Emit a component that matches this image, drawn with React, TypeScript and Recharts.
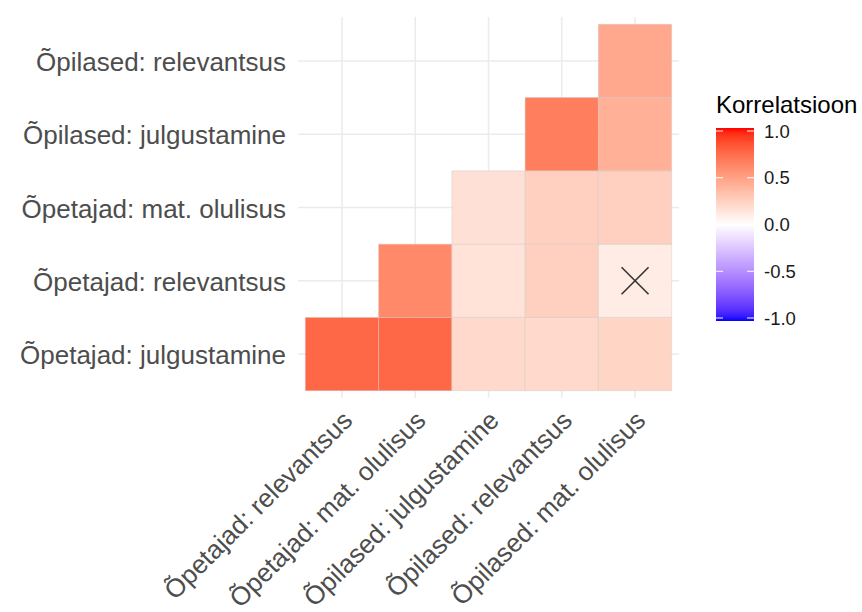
import React from "react";
import {
  ScatterChart,
  Scatter,
  XAxis,
  YAxis,
  CartesianGrid,
  ReferenceArea,
} from "recharts";

// ---------- data ----------
const xCategories = [
  "Õpetajad: relevantsus",
  "Õpetajad: mat. olulisus",
  "Õpilased: julgustamine",
  "Õpilased: relevantsus",
  "Õpilased: mat. olulisus",
];

// bottom to top
const yCategories = [
  "Õpetajad: julgustamine",
  "Õpetajad: relevantsus",
  "Õpetajad: mat. olulisus",
  "Õpilased: julgustamine",
  "Õpilased: relevantsus",
];

// correlation per y row, one value per x column (null = not shown)
const rowOpetajadJulgustamine = [0.75, 0.75, 0.2, 0.2, 0.22];
const rowOpetajadRelevantsus = [null, 0.6, 0.15, 0.25, 0.1];
const rowOpetajadMatOlulisus = [null, null, 0.16, 0.25, 0.25];
const rowOpilasedJulgustamine = [null, null, null, 0.65, 0.41];
const rowOpilasedRelevantsus = [null, null, null, null, 0.45];

const corrRows: (number | null)[][] = [
  rowOpetajadJulgustamine,
  rowOpetajadRelevantsus,
  rowOpetajadMatOlulisus,
  rowOpilasedJulgustamine,
  rowOpilasedRelevantsus,
];

// non-significant pairs (marked with a cross)
const insignificantX = ["Õpilased: mat. olulisus"];
const insignificantY = ["Õpetajad: relevantsus"];

const legendTitle = "Korrelatsioon";
const legendTicks = [1.0, 0.5, 0.0, -0.5, -1.0];

// ---------- colour scale (Lab interpolation, blue - white - red) ----------
const toLin = (c: number) => {
  const v = c / 255;
  return v <= 0.04045 ? v / 12.92 : Math.pow((v + 0.055) / 1.055, 2.4);
};
const fromLin = (c: number) => {
  const v = c <= 0.0031308 ? 12.92 * c : 1.055 * Math.pow(Math.max(c, 0), 1 / 2.4) - 0.055;
  return Math.round(Math.max(0, Math.min(1, v)) * 255);
};
const Xn = 0.95047, Yn = 1, Zn = 1.08883;
const fLab = (t: number) => (t > 0.008856 ? Math.cbrt(t) : 7.787 * t + 16 / 116);
const fInv = (t: number) => (t > 0.206893 ? t * t * t : (t - 16 / 116) / 7.787);
function rgbToLab(rgb: number[]) {
  const [r, g, b] = rgb.map(toLin);
  const X = 0.4124564 * r + 0.3575761 * g + 0.1804375 * b;
  const Y = 0.2126729 * r + 0.7151522 * g + 0.072175 * b;
  const Z = 0.0193339 * r + 0.119192 * g + 0.9503041 * b;
  const fx = fLab(X / Xn), fy = fLab(Y / Yn), fz = fLab(Z / Zn);
  return [116 * fy - 16, 500 * (fx - fy), 200 * (fy - fz)];
}
function labToHex(lab: number[]) {
  const [L, a, b] = lab;
  const fy = (L + 16) / 116;
  const fx = fy + a / 500;
  const fz = fy - b / 200;
  const X = Xn * fInv(fx), Y = Yn * fInv(fy), Z = Zn * fInv(fz);
  const r = 3.2404542 * X - 1.5371385 * Y - 0.4985314 * Z;
  const g = -0.969266 * X + 1.8760108 * Y + 0.041556 * Z;
  const bb = 0.0556434 * X - 0.2040259 * Y + 1.0572252 * Z;
  const h = (n: number) => fromLin(n).toString(16).padStart(2, "0");
  return "#" + h(r) + h(g) + h(bb);
}
const LAB_WHITE = rgbToLab([255, 255, 255]);
const LAB_RED = rgbToLab([255, 0, 0]);
const LAB_BLUE = rgbToLab([0, 0, 255]);
function corrColor(v: number) {
  const t = Math.min(1, Math.abs(v));
  const end = v >= 0 ? LAB_RED : LAB_BLUE;
  return labToHex(LAB_WHITE.map((w, i) => w + (end[i] - w) * t));
}

// ---------- derived marks ----------
const cells: { x: number; y: number; v: number }[] = [];
corrRows.forEach((row, yi) =>
  row.forEach((v, xi) => {
    if (v !== null) cells.push({ x: xi + 1, y: yi + 1, v });
  })
);
const crossData = insignificantX.map((xc, i) => ({
  x: xCategories.indexOf(xc) + 1,
  y: yCategories.indexOf(insignificantY[i]) + 1,
}));
const tickPositions = xCategories.map((_, i) => i + 1);

const FONT = '"Liberation Sans", Arial, Helvetica, sans-serif';

const XTick = (props: any) => {
  const { x, y, payload } = props;
  const ay = y + 12;
  return (
    <text
      x={x}
      y={ay}
      dy={17}
      transform={`rotate(-45, ${x}, ${ay})`}
      textAnchor="end"
      fontSize={26}
      fontFamily={FONT}
      fill="#4D4D4D"
    >
      {xCategories[payload.value - 1]}
    </text>
  );
};

const YTick = (props: any) => {
  const { x, y, payload } = props;
  return (
    <text
      x={x - 12}
      y={y}
      dy={10}
      textAnchor="end"
      fontSize={26}
      fontFamily={FONT}
      fill="#4D4D4D"
    >
      {yCategories[payload.value - 1]}
    </text>
  );
};

const CrossShape = (props: any) => {
  const { cx, cy } = props;
  const s = 13.5;
  return (
    <g stroke="#333333" strokeWidth={1.6}>
      <line x1={cx - s} y1={cy - s} x2={cx + s} y2={cy + s} />
      <line x1={cx - s} y1={cy + s} x2={cx + s} y2={cy - s} />
    </g>
  );
};

const Legend = () => {
  const barX = 716, barY = 128, barW = 38, barH = 193;
  const labelY = (v: number) => 224.5 - 93.5 * v;
  const stops = [];
  for (let i = 0; i <= 40; i++) {
    const v = 1 - i / 20;
    stops.push(<stop key={i} offset={`${(i / 40) * 100}%`} stopColor={corrColor(v)} />);
  }
  return (
    <svg
      width={862}
      height={612}
      style={{ position: "absolute", left: 0, top: 0, pointerEvents: "none" }}
    >
      <defs>
        <linearGradient id="corrGrad" x1="0" y1="0" x2="0" y2="1">
          {stops}
        </linearGradient>
      </defs>
      <text x={716} y={113} fontSize={24} fontFamily={FONT} fill="#000">
        {legendTitle}
      </text>
      <rect x={barX} y={barY} width={barW} height={barH} fill="url(#corrGrad)" />
      {legendTicks.map((v) => (
        <g key={v}>
          <line x1={barX} x2={barX + 7} y1={labelY(v)} y2={labelY(v)} stroke="#fff" strokeWidth={1} />
          <line x1={barX + barW - 7} x2={barX + barW} y1={labelY(v)} y2={labelY(v)} stroke="#fff" strokeWidth={1} />
          <text x={764} y={labelY(v)} dy={6.5} fontSize={18.5} fontFamily={FONT} fill="#1A1A1A">
            {v.toFixed(1)}
          </text>
        </g>
      ))}
    </svg>
  );
};

export default function App() {
  return (
    <div
      style={{
        position: "absolute",
        left: 0,
        top: 0,
        width: 862,
        height: 612,
        background: "#fff",
      }}
    >
      <ScatterChart width={862} height={612} margin={{ top: 17, right: 183, bottom: 0, left: 0 }}>
        <CartesianGrid stroke="#EBEBEB" strokeWidth={1.5} syncWithTicks />
        <XAxis
          type="number"
          dataKey="x"
          domain={[0.4, 5.6]}
          ticks={tickPositions}
          interval={0}
          allowDataOverflow
          axisLine={false}
          tickLine={false}
          tickSize={0}
          tickMargin={0}
          height={214}
          tick={<XTick />}
        />
        <YAxis
          type="number"
          dataKey="y"
          domain={[0.4, 5.6]}
          ticks={tickPositions}
          interval={0}
          allowDataOverflow
          axisLine={false}
          tickLine={false}
          tickSize={0}
          tickMargin={0}
          width={298}
          tick={<YTick />}
        />
        {cells.map((c) => (
          <ReferenceArea
            key={`${c.x}-${c.y}`}
            x1={c.x - 0.5}
            x2={c.x + 0.5}
            y1={c.y - 0.5}
            y2={c.y + 0.5}
            fill={corrColor(c.v)}
            fillOpacity={1}
            stroke="#C8C8C8"
            strokeWidth={0.5}
            strokeOpacity={0.8}
          />
        ))}
        <Scatter data={crossData} shape={CrossShape} isAnimationActive={false} />
      </ScatterChart>
      <Legend />
    </div>
  );
}
